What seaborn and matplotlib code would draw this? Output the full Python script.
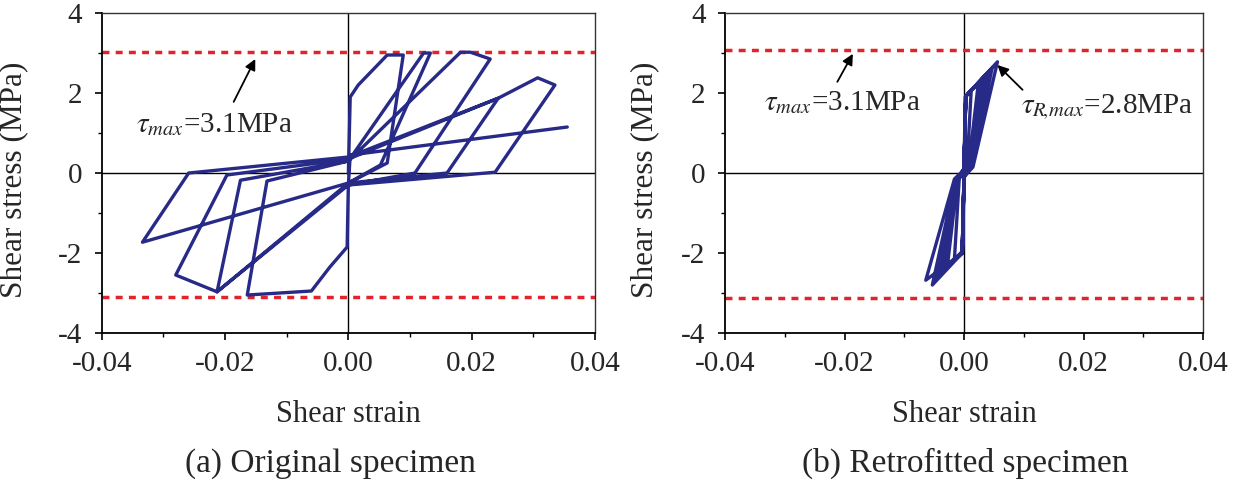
import matplotlib
matplotlib.use("Agg")
import matplotlib.pyplot as plt
import numpy as np
import pandas as pd
import seaborn as sns

# (a) original specimen, hysteresis path
strain_a = [0.0000, 0.0003, 0.0016, 0.0063, 0.0089, 0.0063, 0.0000,
            -0.0002, -0.0030, -0.0060, -0.0164, -0.0132, 0.0000,
            0.0122, 0.0133, 0.0052, 0.0000,
            -0.0213, -0.0175, 0.0000,
            0.0182, 0.0198, 0.0230, 0.0108, 0.0000,
            -0.0213, -0.0280, -0.0197, 0.0000,
            0.0243, 0.0160, 0.0000,
            -0.0334, -0.0259, 0.0000,
            0.0243, 0.0307, 0.0335, 0.0238, 0.0000,
            0.0003, 0.0355]
stress_a = [0.00, 1.90, 2.20, 2.95, 2.95, 0.25, -0.25,
            -1.85, -2.35, -2.95, -3.05, -0.20, 0.30,
            3.00, 3.00, 0.20, -0.25,
            -2.97, -0.18, 0.30,
            3.02, 3.02, 2.85, 0.00, -0.30,
            -2.97, -2.55, -0.05, 0.35,
            1.87, 0.00, -0.25,
            -1.73, 0.00, 0.40,
            1.87, 2.38, 2.20, 0.02, -0.30,
            0.45, 1.15]

# (b) retrofitted specimen
strain_b = [0.0000, 0.0002, 0.0012, 0.0005, 0.0000, -0.0002, -0.0016, -0.0008, 0.0000,
            0.0003, 0.0024, 0.0008, 0.0000, -0.0003, -0.0028, -0.0011, 0.0000,
            0.0003, 0.0030, 0.0010, 0.0000, -0.0003, -0.0034, -0.0012, 0.0000,
            0.0003, 0.0036, 0.0011, 0.0000, -0.0003, -0.0040, -0.0013, 0.0000,
            0.0003, 0.0042, 0.0012, 0.0000, -0.0003, -0.0047, -0.0014, 0.0000,
            0.0003, 0.0047, 0.0013, 0.0000, -0.0003, -0.0053, -0.0015, 0.0000,
            0.0003, 0.0056, 0.0015, 0.0000, -0.0003, -0.0064, -0.0016, -0.0002]
stress_b = [0.00, 1.90, 2.05, 0.15, -0.05, -1.95, -2.15, -0.15, 0.05,
            1.92, 2.25, 0.20, -0.08, -2.00, -2.35, -0.18, 0.08,
            1.92, 2.35, 0.25, -0.10, -2.00, -2.42, -0.22, 0.10,
            1.92, 2.45, 0.20, -0.10, -2.00, -2.50, -0.20, 0.10,
            1.92, 2.55, 0.25, -0.12, -2.00, -2.62, -0.25, 0.12,
            1.92, 2.62, 0.20, -0.10, -2.00, -2.80, -0.20, 0.10,
            1.92, 2.78, 0.15, -0.10, -2.00, -2.68, -0.15, 0.05]

tau_lines_a = [3.03, -3.09]
tau_lines_b = [3.08, -3.13]

x_ticks = [-0.04, -0.02, 0.0, 0.02, 0.04]
x_labels = ["-0.04", "-0.02", "0.00", "0.02", "0.04"]
y_ticks = [-4, -2, 0, 2, 4]
y_labels = ["-4", "-2", "0", "2", "4"]

blue = "#282a88"
red = "#e3232c"

sns.set_theme(style="white")
plt.rcParams["font.family"] = ["Liberation Serif", "DejaVu Serif"]
plt.rcParams["mathtext.fontset"] = "stix"
plt.rcParams["axes.unicode_minus"] = False

fig = plt.figure(figsize=(12.5, 4.82), dpi=100)
ax_a = fig.add_axes([0.0814, 0.3091, 0.3946, 0.6639])
ax_b = fig.add_axes([0.58, 0.3091, 0.3824, 0.6639])


def setup(ax):
    ax.set_xlim(-0.04, 0.04)
    ax.set_ylim(-4, 4)
    ax.set_xticks(x_ticks)
    ax.set_xticklabels(x_labels)
    ax.set_yticks(y_ticks)
    ax.set_yticklabels(y_labels)
    ax.set_xticks([-0.03, -0.01, 0.01, 0.03], minor=True)
    ax.set_yticks([-3, -1, 1, 3], minor=True)
    ax.tick_params(axis="both", which="major", direction="out", length=5,
                   width=1.2, color="black", labelsize=21, bottom=True, left=True)
    ax.tick_params(axis="x", which="major", pad=8)
    ax.tick_params(axis="y", which="major", pad=9)
    ax.tick_params(axis="both", which="minor", direction="out", length=3,
                   width=1.0, color="black", bottom=True, left=True)
    for s in ["left", "bottom"]:
        ax.spines[s].set_color("black")
        ax.spines[s].set_linewidth(1.3)
    for s in ["top", "right"]:
        ax.spines[s].set_color("#333333")
        ax.spines[s].set_linewidth(1.0)
    ax.axhline(0, color="black", lw=1.0, zorder=1)
    ax.axvline(0, color="black", lw=1.0, zorder=1)
    ax.grid(False)


df_a = pd.DataFrame({"strain": strain_a, "stress": stress_a})
df_b = pd.DataFrame({"strain": strain_b, "stress": stress_b})

for ax, df, lines, ylab_x in [(ax_a, df_a, tau_lines_a, -0.150),
                              (ax_b, df_b, tau_lines_b, -0.138)]:
    setup(ax)
    for v in lines:
        ax.axhline(v, color=red, lw=2.5, ls=(0, (2.0, 1.8)), zorder=2)
    sns.lineplot(data=df, x="strain", y="stress", sort=False, estimator=None,
                 color=blue, lw=2.4, ax=ax, zorder=3)
    ax.set_xlabel("Shear strain", fontsize=22)
    ax.set_ylabel("Shear stress (MPa)", fontsize=22.5)
    ax.xaxis.set_label_coords(0.5, -0.21)
    ax.yaxis.set_label_coords(ylab_x, 0.48)

arrow = dict(arrowstyle="-|>", color="black", lw=1.3, mutation_scale=16,
             shrinkA=0, shrinkB=0)

ax_a.text(-0.0345, 1.03, r"$\tau_{max}$=3.1MPa", fontsize=21, ha="left", va="baseline")
ax_a.annotate("", xy=(-0.0151, 2.85), xytext=(-0.0186, 1.78), arrowprops=arrow)

ax_b.text(-0.0335, 1.57, r"$\tau_{max}$=3.1MPa", fontsize=21, ha="left", va="baseline")
ax_b.annotate("", xy=(-0.0186, 2.98), xytext=(-0.0212, 2.28), arrowprops=arrow)
ax_b.text(0.0095, 1.49, r"$\tau_{R\!,\!max}$=2.8MPa", fontsize=21, ha="left", va="baseline")
ax_b.annotate("", xy=(0.0056, 2.70), xytext=(0.0098, 2.08), arrowprops=arrow)

fig.text(330 / 1250, 1 - 472 / 482, "(a) Original specimen", fontsize=24,
         ha="center", va="baseline")
fig.text(965 / 1250, 1 - 472 / 482, "(b) Retrofitted specimen", fontsize=24,
         ha="center", va="baseline")

fig.savefig("out.png", dpi=100)
